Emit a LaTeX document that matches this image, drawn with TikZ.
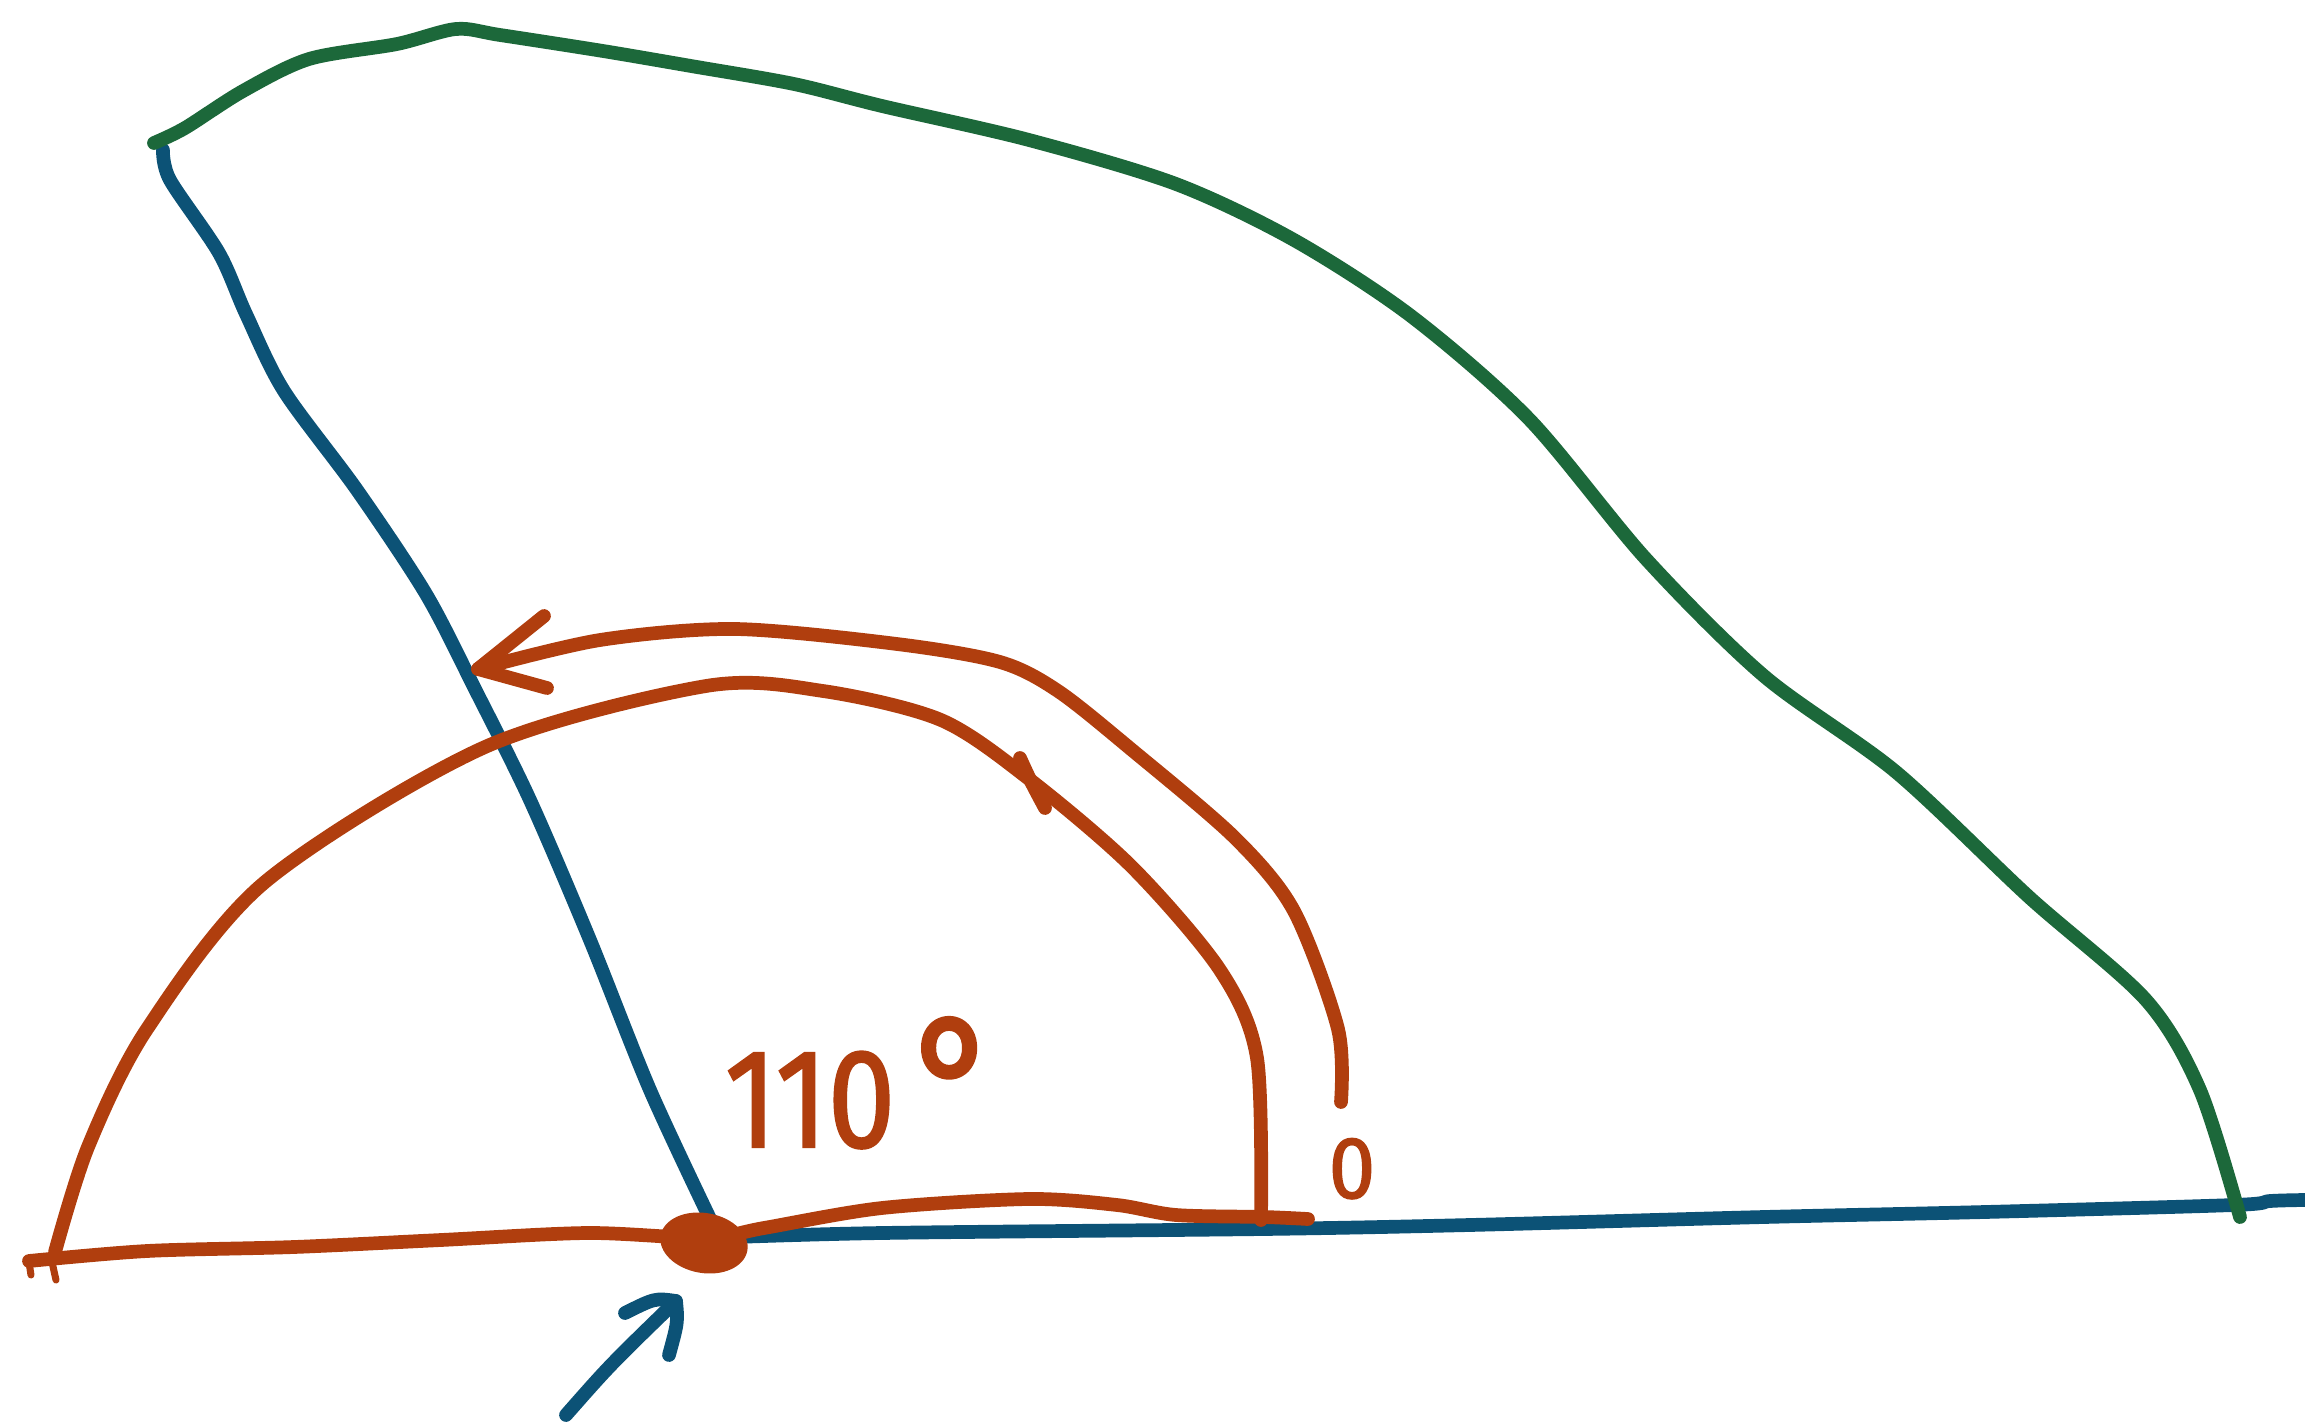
\documentclass[tikz,border=0pt]{standalone}
\usepackage{fontspec}
\newfontfamily\handfont[FakeBold=1.6]{Fira Sans}
\definecolor{sketchorange}{RGB}{176,62,14}
\definecolor{sketchblue}{RGB}{12,82,118}
\definecolor{sketchgreen}{RGB}{28,104,58}
\tikzset{
  pen/.style={line width=3.9pt, line cap=round, line join=round},
  blueline/.style={pen, draw=sketchblue},
  greenline/.style={pen, draw=sketchgreen},
  orangeline/.style={pen, draw=sketchorange},
  handlabel/.style={text=sketchorange, inner sep=0pt, font=\handfont, transform shape}
}
\begin{document}
\begin{tikzpicture}[x=0.01cm, y=-0.01cm]
\useasboundingbox (0,0) rectangle (2305,1427);
% blue baseline
\draw[blueline] plot[smooth, tension=0.5] coordinates {(706,1238) (882,1233) (1264,1229) (1470,1225) (1764,1217) (1985,1212) (2234,1205) (2270,1201) (2305,1200)};
% blue slanted side
\draw[blueline] plot[smooth, tension=0.5] coordinates {(163,150) (170,180) (219,253) (246,314) (284,391) (357,490) (426,594) (475,689) (530,800) (590,940) (650,1090) (713,1225)};
% green outline
\draw[greenline] plot[smooth, tension=0.5] coordinates {(154,143) (185,128) (243,91) (309,59) (397,44) (456,29) (500,35) (603,51) (691,66) (794,84) (882,106) (1029,140) (1176,184) (1294,240) (1411,316) (1529,419) (1646,559) (1764,676) (1896,772) (2029,897) (2146,1000) (2200,1090) (2240,1217)};
% orange protractor arc
\draw[orangeline] plot[smooth, tension=0.5] coordinates {(55,1252) (88,1147) (147,1029) (265,882) (485,747) (706,686) (823,691) (941,720) (1029,779) (1132,867) (1220,970) (1257,1058) (1261,1220)};
% orange baseline
\draw[orangeline] plot[smooth, tension=0.5] coordinates {(29,1261) (147,1251) (294,1247) (441,1240) (588,1233) (706,1238) (764,1228) (882,1208) (1029,1199) (1117,1205) (1176,1215) (1264,1217) (1308,1219)};
\draw[orangeline, line width=2pt] (29,1262) -- (31,1275);
\draw[orangeline, line width=2pt] (52,1262) -- (56,1280);
% orange arrow
\draw[orangeline] plot[smooth, tension=0.5] coordinates {(1341,1102) (1338,1029) (1294,911) (1235,838) (1132,750) (1058,691) (1000,662) (897,644) (735,629) (600,640) (478,669)};
\coordinate (tip) at (478,669);
\coordinate (barbA) at (544,616);
\coordinate (barbB) at (547,688);
\draw[orangeline] (barbA) -- (tip) -- (barbB);
\draw[orangeline] (1020,758) .. controls (1030,780) .. (1045,808);
% vertex blob
\fill[sketchorange, rotate around={-10:(704,1243)}] (704,1243) ellipse [x radius=44, y radius=30];
% blue pointer arrow
\coordinate (ptail) at (566,1415);
\coordinate (ptip) at (676,1301);
\draw[blueline] (ptail) .. controls (610,1365) .. (ptip);
\draw[blueline] (625,1313) .. controls (655,1298) .. (ptip) .. controls (678,1322) .. (669,1355);
% labels
\node[handlabel, anchor=base west, xscale=0.86, font=\handfont\fontsize{40}{40}\selectfont] (angle) at (724,1147) {110\hspace{6pt}\raisebox{-1pt}{\fontsize{54}{54}\selectfont°}};
\node[handlabel, anchor=base, xscale=0.95, font=\handfont\fontsize{25}{25}\selectfont] (zero) at (1352,1198) {0};
\end{tikzpicture}
\end{document}
